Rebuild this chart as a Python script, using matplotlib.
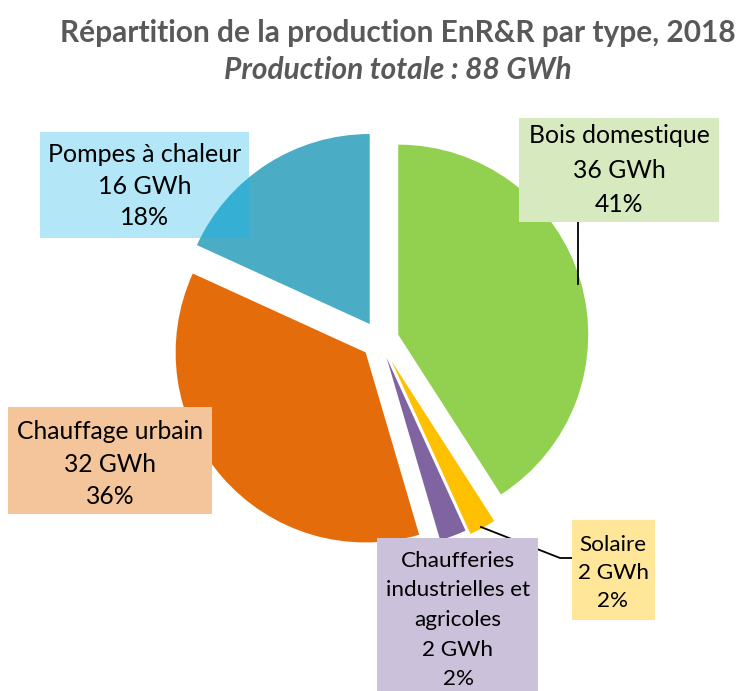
import matplotlib
matplotlib.use("Agg")
import matplotlib.pyplot as plt
from matplotlib.patches import Wedge

categories = ["Bois domestique", "Solaire", "Chaufferies\nindustrielles et\nagricoles", "Chauffage urbain", "Pompes à chaleur"]
values_gwh = [36, 2, 2, 32, 16]
percent_labels = ["41%", "2%", "2%", "36%", "18%"]
colors = ["#92D050", "#FFC000", "#8064A2", "#E46C0A", "#4BACC6"]
box_colors = ["#D7E9BE", "#FFE699", "#CCC1DA", "#F4C59A", "#B3E6F7"]

W, H = 738, 691
fig = plt.figure(figsize=(W / 100, H / 100), dpi=100)
ax = fig.add_axes([0, 0, 1, 1])

cx, cy = 380, H - 340
R = 190
explode = [19, 24, 19, 19, 19]
wedges, _ = ax.pie(values_gwh, colors=colors, startangle=90, counterclock=False,
                   center=(cx, cy), radius=R, explode=explode, frame=True,
                   wedgeprops=dict(linewidth=0))
ax.set_xlim(0, W)
ax.set_ylim(0, H)
ax.set_aspect("equal")
ax.axis("off")

font = "Lato"
title_color = "#595959"
fig.text(398 / W, 1 - 33 / H, "Répartition de la production EnR&R par type, 2018",
         ha="center", va="center", fontsize=21.5, fontweight="bold", color=title_color, family=font)
fig.text(398 / W, 1 - 70 / H, "Production totale : 88 GWh",
         ha="center", va="center", fontsize=21.5, fontweight="bold", style="italic",
         color=title_color, family=font)

def Y(py):
    return H - py

# label boxes: (x0, y0, x1, y1) in pixel coords (top-left origin)
boxes = [(519, 118, 719, 222), (572, 520, 655, 620), (377, 538, 538, 700),
         (8, 407, 212, 514), (40, 132, 249, 238)]
text_centers = [(619, 170), (613, 573), (458, 620), (110, 464), (145, 186)]
font_sizes = [17.8, 16.2, 16.2, 17.7, 18]
line_sp = [1.6, 1.47, 1.6, 1.5, 1.47]

# leader lines
ax.plot([578, 578], [Y(222), Y(284)], color="black", lw=1.3, zorder=3)
ax.plot([481, 560, 572], [Y(527), Y(558), Y(558)], color="black", lw=1.3, zorder=3)

for i, cat in enumerate(categories):
    x0, y0, x1, y1 = boxes[i]
    rect = plt.Rectangle((x0, Y(y1)), x1 - x0, y1 - y0, facecolor=box_colors[i],
                         edgecolor="none", zorder=4)
    ax.add_patch(rect)
    if i == 4:
        w = wedges[i]
        ov = Wedge(w.center, w.r, w.theta1, w.theta2, facecolor="#36AFD5",
                   edgecolor="none", zorder=4.5)
        ax.add_patch(ov)
        ov.set_clip_path(rect)
    txt = f"{cat}\n{values_gwh[i]} GWh\n{percent_labels[i]}"
    tx, ty = text_centers[i]
    ax.text(tx, Y(ty), txt, ha="center", va="center", fontsize=font_sizes[i],
            linespacing=line_sp[i], color="black", family=font, zorder=5)

fig.savefig("out.png", dpi=100)
